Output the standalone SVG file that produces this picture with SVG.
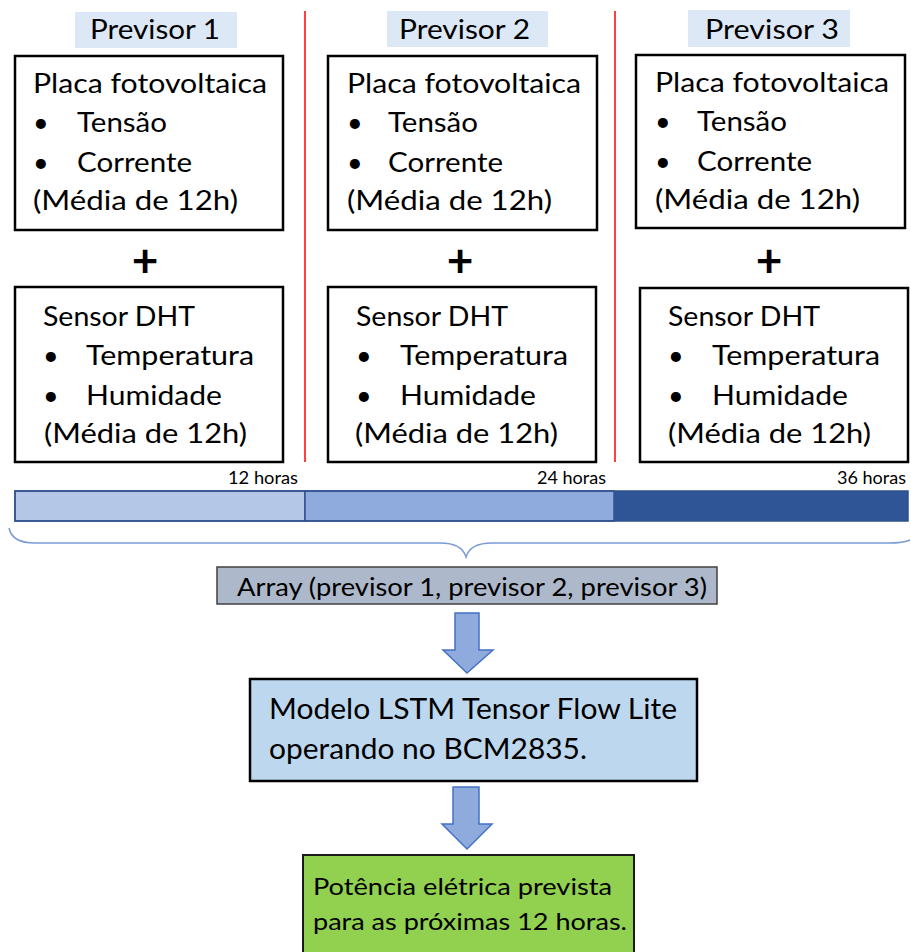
<svg xmlns="http://www.w3.org/2000/svg" width="911" height="952" viewBox="0 0 911 952">
  <style>
    text { font-family: Lato, "Open Sans", "Liberation Sans", sans-serif; fill: #000; }
    .t { font-size: 27px; lengthAdjust: spacingAndGlyphs; }
    .hdr { font-size: 27px; }
    .hrs { font-size: 17px; }
    .plus { font-size: 46px; font-weight: bold; text-anchor: middle; }
    .box { fill: #fff; stroke: #000; stroke-width: 2.5; }
    .lbl { fill: #DCE8F5; }
    .sep { stroke: #FF0000; stroke-width: 1.5; }
    .seg { stroke: #2F528F; stroke-width: 1.5; }
    .arrow { fill: #8FAADC; stroke: #4472C4; stroke-width: 1.5; stroke-linejoin: miter; }
  </style>

  <rect width="911" height="952" fill="#fff"/>

  <!-- column separators -->
  <g id="separators">
    <line class="sep" x1="305" y1="11" x2="305" y2="462"/>
    <line class="sep" x1="615" y1="11" x2="615" y2="462"/>
  </g>

  <!-- column 1 -->
  <g id="previsor1">
    <rect class="lbl" x="75" y="12" width="162" height="36"/>
    <text class="hdr" x="90" y="39" textLength="130" lengthAdjust="spacingAndGlyphs">Previsor 1</text>
  </g>
  <g id="placa1">
    <rect class="box" x="15" y="56" width="268" height="174"/>
    <text class="t" x="33" y="93" textLength="234" lengthAdjust="spacingAndGlyphs">Placa fotovoltaica</text>
    <text class="t" x="33" y="132">•</text>
    <text class="t" x="77" y="132" textLength="90" lengthAdjust="spacingAndGlyphs">Tensão</text>
    <text class="t" x="33" y="172">•</text>
    <text class="t" x="77" y="172" textLength="115" lengthAdjust="spacingAndGlyphs">Corrente</text>
    <text class="t" x="33" y="210" textLength="205" lengthAdjust="spacingAndGlyphs">(Média de 12h)</text>
  </g>
  <g id="plus1"><text class="plus" x="145" y="277">+</text></g>
  <g id="sensor1">
    <rect class="box" x="15" y="287" width="268" height="175"/>
    <text class="t" x="43" y="326" textLength="152" lengthAdjust="spacingAndGlyphs">Sensor DHT</text>
    <text class="t" x="43" y="365">•</text>
    <text class="t" x="86" y="365" textLength="168" lengthAdjust="spacingAndGlyphs">Temperatura</text>
    <text class="t" x="43" y="405">•</text>
    <text class="t" x="86" y="405" textLength="136" lengthAdjust="spacingAndGlyphs">Humidade</text>
    <text class="t" x="44" y="443" textLength="203" lengthAdjust="spacingAndGlyphs">(Média de 12h)</text>
  </g>

  <!-- column 2 -->
  <g id="previsor2">
    <rect class="lbl" x="387" y="11" width="161" height="36"/>
    <text class="hdr" x="399" y="39" textLength="131" lengthAdjust="spacingAndGlyphs">Previsor 2</text>
  </g>
  <g id="placa2">
    <rect class="box" x="328" y="56" width="269" height="174"/>
    <text class="t" x="347" y="93" textLength="234" lengthAdjust="spacingAndGlyphs">Placa fotovoltaica</text>
    <text class="t" x="347" y="132">•</text>
    <text class="t" x="388" y="132" textLength="90" lengthAdjust="spacingAndGlyphs">Tensão</text>
    <text class="t" x="347" y="172">•</text>
    <text class="t" x="388" y="172" textLength="115" lengthAdjust="spacingAndGlyphs">Corrente</text>
    <text class="t" x="347" y="210" textLength="205" lengthAdjust="spacingAndGlyphs">(Média de 12h)</text>
  </g>
  <g id="plus2"><text class="plus" x="460" y="277">+</text></g>
  <g id="sensor2">
    <rect class="box" x="328" y="287" width="268" height="175"/>
    <text class="t" x="356" y="326" textLength="152" lengthAdjust="spacingAndGlyphs">Sensor DHT</text>
    <text class="t" x="356" y="365">•</text>
    <text class="t" x="400" y="365" textLength="168" lengthAdjust="spacingAndGlyphs">Temperatura</text>
    <text class="t" x="356" y="405">•</text>
    <text class="t" x="400" y="405" textLength="136" lengthAdjust="spacingAndGlyphs">Humidade</text>
    <text class="t" x="355" y="443" textLength="203" lengthAdjust="spacingAndGlyphs">(Média de 12h)</text>
  </g>

  <!-- column 3 -->
  <g id="previsor3">
    <rect class="lbl" x="688" y="10" width="162" height="37"/>
    <text class="hdr" x="705" y="39" textLength="134" lengthAdjust="spacingAndGlyphs">Previsor 3</text>
  </g>
  <g id="placa3">
    <rect class="box" x="636" y="55" width="269" height="173"/>
    <text class="t" x="655" y="92" textLength="234" lengthAdjust="spacingAndGlyphs">Placa fotovoltaica</text>
    <text class="t" x="655" y="131">•</text>
    <text class="t" x="697" y="131" textLength="90" lengthAdjust="spacingAndGlyphs">Tensão</text>
    <text class="t" x="655" y="171">•</text>
    <text class="t" x="697" y="171" textLength="115" lengthAdjust="spacingAndGlyphs">Corrente</text>
    <text class="t" x="655" y="209" textLength="205" lengthAdjust="spacingAndGlyphs">(Média de 12h)</text>
  </g>
  <g id="plus3"><text class="plus" x="769" y="277">+</text></g>
  <g id="sensor3">
    <rect class="box" x="640" y="288" width="268" height="174"/>
    <text class="t" x="668" y="326" textLength="152" lengthAdjust="spacingAndGlyphs">Sensor DHT</text>
    <text class="t" x="668" y="365">•</text>
    <text class="t" x="712" y="365" textLength="168" lengthAdjust="spacingAndGlyphs">Temperatura</text>
    <text class="t" x="668" y="405">•</text>
    <text class="t" x="712" y="405" textLength="136" lengthAdjust="spacingAndGlyphs">Humidade</text>
    <text class="t" x="668" y="443" textLength="203" lengthAdjust="spacingAndGlyphs">(Média de 12h)</text>
  </g>

  <!-- timeline -->
  <g id="timeline">
    <text class="hrs" x="228" y="484" textLength="70" lengthAdjust="spacingAndGlyphs">12 horas</text>
    <text class="hrs" x="537" y="484" textLength="69" lengthAdjust="spacingAndGlyphs">24 horas</text>
    <text class="hrs" x="837" y="484" textLength="69" lengthAdjust="spacingAndGlyphs">36 horas</text>
    <rect class="seg" x="15" y="491" width="290" height="30" fill="#B4C7E7"/>
    <rect class="seg" x="305" y="491" width="309" height="30" fill="#8FAADC"/>
    <rect x="614" y="491" width="294" height="30" fill="#2F5597"/>
    <rect x="15" y="491" width="893" height="30" fill="none" stroke="#2F528F" stroke-width="1.5"/>
  </g>

  <g id="brace">
    <path d="M 9 528 Q 12 543 35 543 L 440 543 Q 462 543 466 557 Q 470 543 492 543 L 888 543 Q 904 543 910 540" fill="none" stroke="#7A9BD6" stroke-width="1.5"/>
  </g>

  <g id="array">
    <rect x="217" y="567" width="500" height="37" fill="#ADB9CA" stroke="#404040" stroke-width="1.5"/>
    <text x="237" y="596" font-size="25" textLength="470" lengthAdjust="spacingAndGlyphs">Array (previsor 1, previsor 2, previsor 3)</text>
  </g>

  <g id="lstm">
    <rect x="250" y="679" width="447" height="102" fill="#BDD7EE" stroke="#000" stroke-width="2.5"/>
    <text x="269" y="719" font-size="28" textLength="408" lengthAdjust="spacingAndGlyphs">Modelo LSTM Tensor Flow Lite</text>
    <text x="269" y="759" font-size="28" textLength="318" lengthAdjust="spacingAndGlyphs">operando no BCM2835.</text>
  </g>

  <g id="output">
    <rect x="303" y="855" width="331" height="110" fill="#92D050" stroke="#1A1A1A" stroke-width="2"/>
    <text x="313" y="895" font-size="24" textLength="299" lengthAdjust="spacingAndGlyphs">Potência elétrica prevista</text>
    <text x="313" y="930" font-size="24" textLength="314" lengthAdjust="spacingAndGlyphs">para as próximas 12 horas.</text>
  </g>

  <!-- flow arrows -->
  <g id="connectors">
    <polygon class="arrow" points="455,613 479,613 479,650 493,650 467,673 443,650 455,650"/>
    <polygon class="arrow" points="453,787 479,787 479,824 492,824 467,849 442,824 453,824"/>
  </g>
</svg>
